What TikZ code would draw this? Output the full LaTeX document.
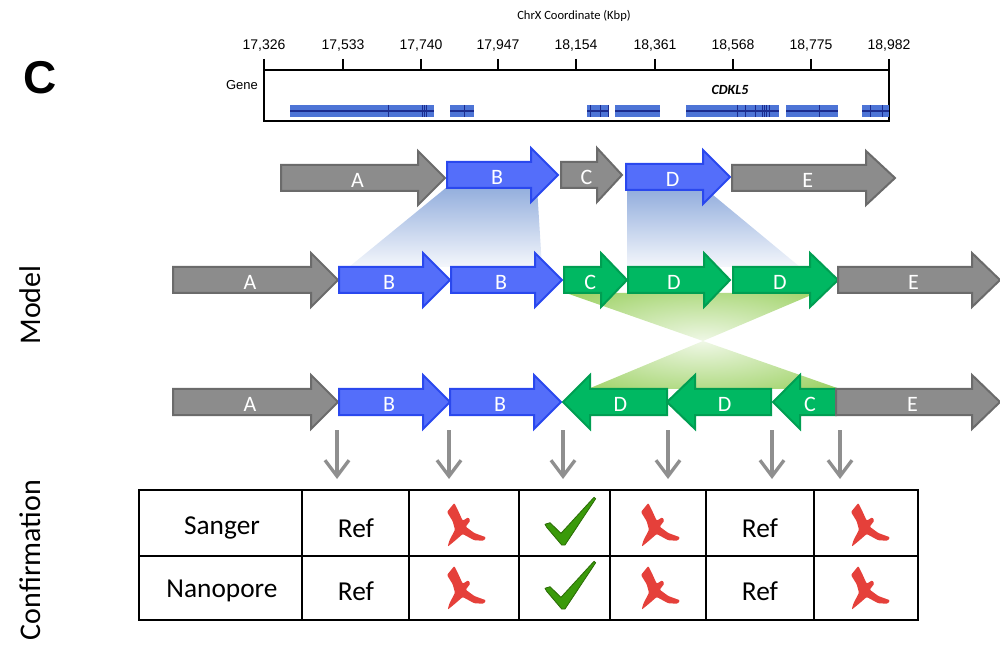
\documentclass[tikz,border=0pt]{standalone}
\usepackage{fontspec}
\setmainfont{Carlito}
\newfontfamily\arialf{Liberation Sans}
\usetikzlibrary{arrows.meta}

\definecolor{grayfill}{HTML}{8C8C8C}
\definecolor{grayline}{HTML}{6B6B6B}
\definecolor{bluefill}{HTML}{546EFA}
\definecolor{blueline}{HTML}{2A48EE}
\definecolor{greenfill}{HTML}{00B862}
\definecolor{greenline}{HTML}{009E52}
\definecolor{exonfill}{HTML}{4D74D6}
\definecolor{exonline}{HTML}{1C2C8E}
\definecolor{shadeblue}{HTML}{93AEDD}
\colorlet{shadebluelight}{white!90!shadeblue}
\definecolor{shadegreen}{HTML}{98CF5C}
\colorlet{shadegreenlight}{white!85!shadegreen}
\definecolor{crossred}{HTML}{E5403A}
\definecolor{tickgreen}{HTML}{3A9A0A}
\definecolor{tickdark}{HTML}{2A6A05}
\definecolor{pointer}{HTML}{8F8F8F}

% radial fade used for the inversion bow-tie
\pgfdeclareradialshading{bowtie}{\pgfpoint{0bp}{0bp}}{%
  color(0bp)=(shadegreenlight); color(36bp)=(shadegreen); color(50bp)=(shadegreen)}

% block arrow: style, label name, tail x, head base x, tip x, centre y, label
\newcommand\blockarrow[7]{%
  \draw[#1] (#3,#6-13) -- (#4,#6-13) -- (#4,#6-27) -- (#5,#6) -- (#4,#6+27)
    -- (#4,#6+13) -- (#3,#6+13) -- cycle;
  \node[blocklabel] (#2) at ({0.5*(#3+#4)+0.3*(#5-#4)},#6+2) {#7};}

\tikzset{
  grayarr/.style={fill=grayfill, draw=grayline, line width=1.5pt, line join=miter},
  bluearr/.style={fill=bluefill, draw=blueline, line width=1.5pt, line join=miter},
  greenarr/.style={fill=greenfill, draw=greenline, line width=1.5pt, line join=miter},
  blocklabel/.style={text=white, font=\fontsize{16.5}{16.5}\selectfont, inner sep=0pt},
  ticklabel/.style={font=\arialf\fontsize{10.5}{12}\selectfont},
  exon/.style={fill=exonfill, draw=none},
  exonmid/.style={draw=exonline, line width=1.2pt},
  exonmark/.style={draw=exonline, line width=0.7pt},
  gridline/.style={draw=black, line width=1.9pt},
  celltext/.style={font=\fontsize{20.5}{22}\selectfont},
  sidetitle/.style={font=\fontsize{22.5}{24}\selectfont, rotate=90},
  pointerarrow/.style={draw=pointer, line width=2.5pt,
    -{Straight Barb[length=12pt, width=18pt, line width=2.5pt]}},
  redcross/.pic={
    \fill[crossred, rounded corners=0.8pt]
      (-19,-13) -- (-11.7,-22) -- (-8.3,-15.3) -- (-3.3,-4.3) -- (2.3,-7.7)
      -- (4.3,-4.3) -- (-0.3,1.7) -- (8.3,8) -- (20,12.3) -- (17.7,15.7)
      -- (8.3,15.3) -- (-3.3,9) -- (-11,15.7) -- (-18.3,21.7) -- (-16.7,15.7)
      -- (-11,4.7) -- (-13.3,-3.7) -- cycle;},
  greentick/.pic={
    \filldraw[fill=tickgreen, draw=tickdark, line width=0.6pt, line join=round]
      (-26,2.3) -- (-21,0.7) -- (-10,11.3) -- (23,-24.7) -- (24.7,-23.3)
      -- (-6,23) -- (-9.3,23) -- (-24.3,5.3) -- cycle;}
}

\begin{document}
\begin{tikzpicture}[x=0.75pt, y=-0.75pt]
\useasboundingbox (0,0) rectangle (1000,645);

% panel letter and side titles
\node[font=\arialf\bfseries\fontsize{34.5}{36}\selectfont] (panel) at (40,78) {C};
\node[sidetitle] (model) at (30,305) {Model};
\node[sidetitle] (confirm) at (30,560) {Confirmation};

% ---------- coordinate track ----------
\node[font=\fontsize{9.4}{11}\selectfont] (axistitle) at (574,16) {ChrX Coordinate (Kbp)};
\foreach \x/\t in {264/{17,326}, 343/{17,533}, 421/{17,740}, 498/{17,947}, 576/{18,154},
                   655/{18,361}, 733/{18,568}, 811/{18,775}, 889/{18,982}} {
  \node[ticklabel] at (\x,46) {\t};
  \draw[line width=0.8pt] (\x,59) -- (\x,70);
}
\draw[line width=1.1pt] (264,70) -- (889,70) -- (889,121) -- (264,121) -- cycle;
\node[font=\arialf\fontsize{9.75}{11}\selectfont] (genelabel) at (242,85) {Gene};
\node[font=\bfseries\itshape\fontsize{10.5}{12}\selectfont] (cdkl) at (730,90) {CDKL5};

% exons
\foreach \a/\b in {290/434, 450/474, 587/609, 615/660, 686/779, 786/838, 862/889} {
  \fill[exon] (\a,105) rectangle (\b,117);
  \draw[exonmid] (\a,111) -- (\b,111);
}
\foreach \x in {388, 422, 424, 426, 464, 590, 600, 608, 737, 745, 755, 762, 764, 766, 769, 819, 870, 882}
  \draw[exonmark] (\x,105) -- (\x,117);

% ---------- shaded links between rows ----------
\shade[top color=shadeblue, bottom color=shadebluelight]
  (447,187) -- (537,187) -- (542,267) -- (349,267) -- cycle;
\shade[top color=shadeblue, bottom color=shadebluelight]
  (627,190) -- (707,190) -- (800,267) -- (627,267) -- cycle;
\shade[shading=bowtie]
  (566,293) -- (816,293) -- (703,341) -- cycle
  (703,341) -- (588,389) -- (840,389) -- cycle;

% ---------- reference row ----------
\blockarrow{grayarr}{r1a}{281}{418}{445}{178}{A}
\blockarrow{bluearr}{r1b}{447}{531}{558}{175}{B}
\blockarrow{grayarr}{r1c}{561}{597}{622}{175}{C}
\blockarrow{bluearr}{r1d}{626}{703}{730}{177}{D}
\blockarrow{grayarr}{r1e}{732}{866}{895}{178}{E}

% ---------- duplicated row ----------
\blockarrow{grayarr}{r2a}{173}{311}{338}{280}{A}
\blockarrow{bluearr}{r2b}{339}{423}{450}{280}{B}
\blockarrow{bluearr}{r2bb}{451}{535}{562}{280}{B}
\blockarrow{greenarr}{r2c}{564}{601}{627}{280}{C}
\blockarrow{greenarr}{r2d}{628}{704}{730}{280}{D}
\blockarrow{greenarr}{r2dd}{733}{810}{838}{280}{D}
\blockarrow{grayarr}{r2e}{838}{972}{1000}{280}{E}

% ---------- inverted row ----------
\blockarrow{grayarr}{r3a}{173}{311}{338}{402}{A}
\blockarrow{bluearr}{r3b}{339}{423}{450}{402}{B}
\blockarrow{bluearr}{r3bb}{450}{534}{561}{402}{B}
\blockarrow{greenarr}{r3d}{667}{590}{563}{402}{D}
\blockarrow{greenarr}{r3dd}{771}{695}{667}{402}{D}
\blockarrow{greenarr}{r3c}{836}{800}{773}{402}{C}
\blockarrow{grayarr}{r3e}{836}{972}{1000}{402}{E}

% ---------- junction pointers ----------
\foreach \i/\x in {1/337, 2/449, 3/563, 4/668, 5/772, 6/840} {
  \coordinate (p\i) at (\x,430);
  \coordinate (q\i) at (\x,479);
  \draw[pointerarrow] (p\i) -- (q\i);
}

% ---------- confirmation table ----------
\draw[gridline] (139,490) rectangle (918,620);
\draw[gridline] (139,556) -- (918,556);
\foreach \x in {302, 409, 519, 610, 706, 814}
  \draw[gridline] (\x,490) -- (\x,620);

\node[celltext] (sanger) at (222,528) {Sanger};
\node[celltext] (nanopore) at (222,591) {Nanopore};
\node[celltext] (ref1) at (356,528) {Ref};
\node[celltext] (ref2) at (356,591) {Ref};
\node[celltext] (ref3) at (760,528) {Ref};
\node[celltext] (ref4) at (760,591) {Ref};

\foreach \x in {466, 660, 870} {
  \pic at (\x,525) {redcross};
  \pic at (\x,588) {redcross};
}
\pic at (571,522) {greentick};
\pic at (571,586) {greentick};
\end{tikzpicture}
\end{document}
